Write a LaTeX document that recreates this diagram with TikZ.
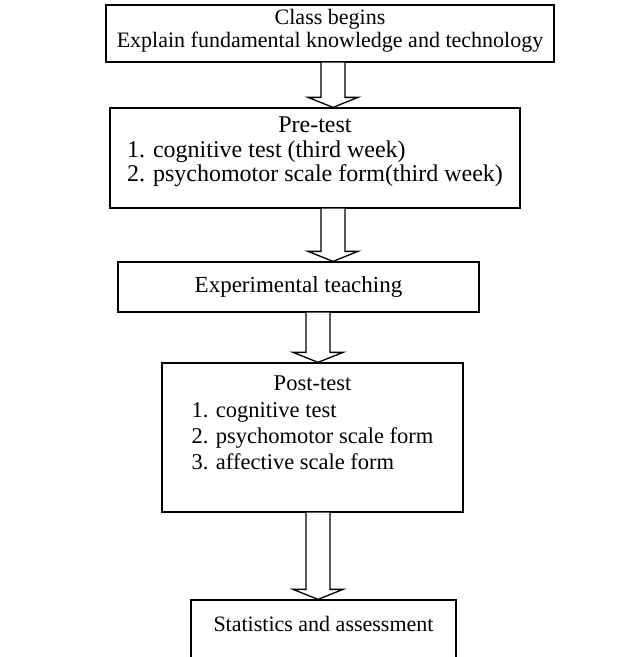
\documentclass[tikz,border=0pt]{standalone}
\usepackage{fontspec}
\setmainfont{Liberation Serif}
\usetikzlibrary{calc}

\begin{document}
\begin{tikzpicture}[x=1pt,y=1pt,
    box/.style={draw,line width=1.3pt,inner sep=0pt,font=\fontsize{22}{25}\selectfont},
    hollow/.style={draw,line width=1.3pt,fill=white,line join=miter}]
  \useasboundingbox (0,0) rectangle (629,-657);
  \node[box,minimum width=448,minimum height=57,font=\fontsize{22}{23}\selectfont] (begin) at (330,-33.5)
    {\begin{tabular}{@{}c@{}}Class begins\\Explain fundamental knowledge and technology\\[5pt]\end{tabular}};
  \node[box,minimum width=410,minimum height=100,font=\fontsize{24}{24.5}\selectfont] (pre) at (315,-158)
    {\begin{tabular}{@{}l@{}}\multicolumn{1}{@{}c@{}}{Pre-test}\\
      1. cognitive test (third week)\\
      2. psychomotor scale form(third week)\\[11pt]\end{tabular}};
  \node[box,minimum width=361,minimum height=50,font=\fontsize{23}{25}\selectfont] (exp) at (298.5,-287)
    {Experimental teaching};
  \node[box,minimum width=301,minimum height=149,font=\fontsize{22.5}{26.3}\selectfont] (post) at (312.5,-437.5)
    {\begin{tabular}{@{}l@{}}\multicolumn{1}{@{}c@{}}{Post-test}\\
      1. cognitive test\\
      2. psychomotor scale form\\
      3. affective scale form\\[25pt]\end{tabular}};
  \node[box,minimum width=265,minimum height=65] (stat) at (323.5,-632.5)
    {\begin{tabular}{@{}c@{}}Statistics and assessment\\[13pt]\end{tabular}};
  \foreach \from/\to/\ax in {begin/pre/333,pre/exp/333,exp/post/318,post/stat/318}{
    \coordinate (ax) at (\ax,0);
    \draw[hollow] ($(ax |- \from.south)+(-12,0)$) -- ($(ax |- \to.north)+(-12,10)$)
      -- ($(ax |- \to.north)+(-25,10)$) -- (ax |- \to.north)
      -- ($(ax |- \to.north)+(25,10)$) -- ($(ax |- \to.north)+(12,10)$)
      -- ($(ax |- \from.south)+(12,0)$);
  }
\end{tikzpicture}
\end{document}
